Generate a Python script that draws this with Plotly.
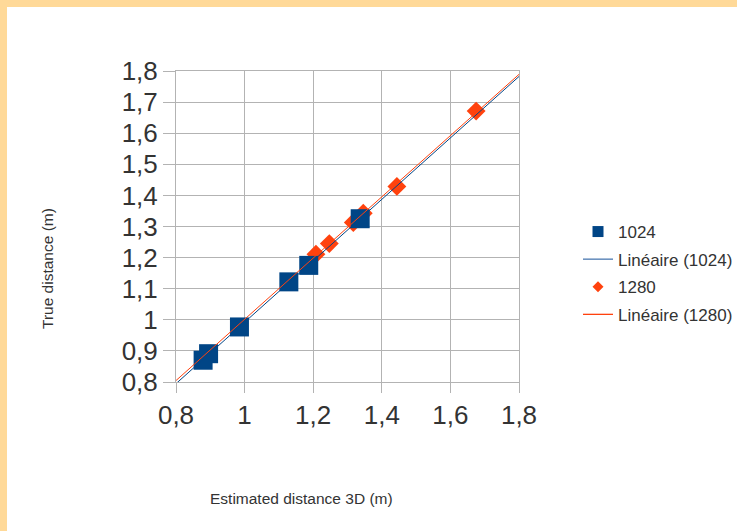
import numpy as np
import plotly.graph_objects as go

# Data
x_1024 = [0.879, 0.895, 0.985, 1.129, 1.187, 1.337]
y_1024 = [0.870, 0.891, 0.977, 1.122, 1.175, 1.325]
x_1280 = [1.208, 1.247, 1.317, 1.346, 1.444, 1.675]
y_1280 = [1.211, 1.245, 1.313, 1.343, 1.429, 1.671]
tick_vals = [0.8, 0.9, 1.0, 1.1, 1.2, 1.3, 1.4, 1.5, 1.6, 1.7, 1.8]
x_tick_vals = [0.8, 1.0, 1.2, 1.4, 1.6, 1.8]
names = ["1024", "Linéaire (1024)", "1280", "Linéaire (1280)"]

BLUE = "#004586"
ORANGE = "#ff420e"
GRID = "#b3b3b3"
TEXT = "#333333"
FONT = "Liberation Sans"

W, H = 737, 531
L, R, T, B = 176, 218, 71, 149
pw, ph = W - L - R, H - T - B

def px2x(px):
    return (px - L) / pw

def py2y(py):
    return (H - B - py) / ph

xs_line = np.array([0.8, 1.8])
c1 = np.polyfit(x_1024, y_1024, 1)
c2 = np.polyfit(x_1280, y_1280, 1)

fig = go.Figure()
# drawing order: diamonds, squares, then trend lines on top
fig.add_trace(go.Scatter(x=x_1280, y=y_1280, mode="markers", name=names[2], showlegend=False,
                         marker=dict(symbol="diamond", size=14.5, color=ORANGE)))
fig.add_trace(go.Scatter(x=x_1024, y=y_1024, mode="markers", name=names[0], showlegend=False,
                         marker=dict(symbol="square", size=19, color=BLUE)))
fig.add_trace(go.Scatter(x=xs_line, y=np.polyval(c1, xs_line), mode="lines", name=names[1],
                         showlegend=False, line=dict(color=BLUE, width=1)))
fig.add_trace(go.Scatter(x=xs_line, y=np.polyval(c2, xs_line), mode="lines", name=names[3],
                         showlegend=False, line=dict(color=ORANGE, width=1)))

# legend entries
fig.add_trace(go.Scatter(x=[None], y=[None], mode="markers", name=names[0], legendgroup="a",
                         marker=dict(symbol="square", size=11, color=BLUE)))
fig.add_trace(go.Scatter(x=[None], y=[None], mode="lines", name=names[1], legendgroup="b",
                         line=dict(color="#4a78b0", width=1.3)))
fig.add_trace(go.Scatter(x=[None], y=[None], mode="markers", name=names[2], legendgroup="c",
                         marker=dict(symbol="diamond", size=8.5, color=ORANGE)))
fig.add_trace(go.Scatter(x=[None], y=[None], mode="lines", name=names[3], legendgroup="d",
                         line=dict(color=ORANGE, width=1.3)))

def axis_common(ticklen):
    return dict(range=[0.8, 1.8], showgrid=True, gridcolor=GRID, gridwidth=1,
                showline=True, linecolor=GRID, linewidth=1, mirror=True,
                ticks="outside", ticklen=ticklen, tickcolor=GRID,
                tickfont=dict(family=FONT, size=26, color=TEXT),
                zeroline=False)

fig.update_layout(
    width=W, height=H,
    margin=dict(l=L, r=R, t=T, b=B, autoexpand=False),
    paper_bgcolor="white", plot_bgcolor="white",
    xaxis=dict(axis_common(10), tickvals=x_tick_vals,
               ticktext=[f"{v:g}".replace(".", ",") for v in x_tick_vals]),
    yaxis=dict(axis_common(12), tickvals=tick_vals,
               ticktext=[f"{v:g}".replace(".", ",") for v in tick_vals]),
    showlegend=True,
    legend=dict(x=px2x(578), y=py2y(214), xanchor="left", yanchor="top",
                font=dict(family=FONT, size=17, color=TEXT),
                bgcolor="rgba(0,0,0,0)", tracegroupgap=2.5, itemsizing="trace"),
    annotations=[
        dict(text="Estimated distance 3D (m)", xref="paper", yref="paper",
             x=px2x(301), y=py2y(498), xanchor="center", yanchor="middle", showarrow=False,
             font=dict(family=FONT, size=15.5, color=TEXT)),
        dict(text="True distance (m)", xref="paper", yref="paper",
             x=px2x(47), y=py2y(269), xanchor="center", yanchor="middle",
             showarrow=False, textangle=-90,
             font=dict(family=FONT, size=15.5, color=TEXT)),
    ],
    shapes=[
        dict(type="rect", xref="paper", yref="paper", layer="below",
             x0=px2x(0), x1=px2x(W), y0=py2y(0), y1=py2y(7),
             fillcolor="#ffd998", line=dict(width=0)),
        dict(type="rect", xref="paper", yref="paper", layer="below",
             x0=px2x(0), x1=px2x(7), y0=py2y(0), y1=py2y(H),
             fillcolor="#ffd998", line=dict(width=0)),
    ],
)

fig.write_html("out.html")
